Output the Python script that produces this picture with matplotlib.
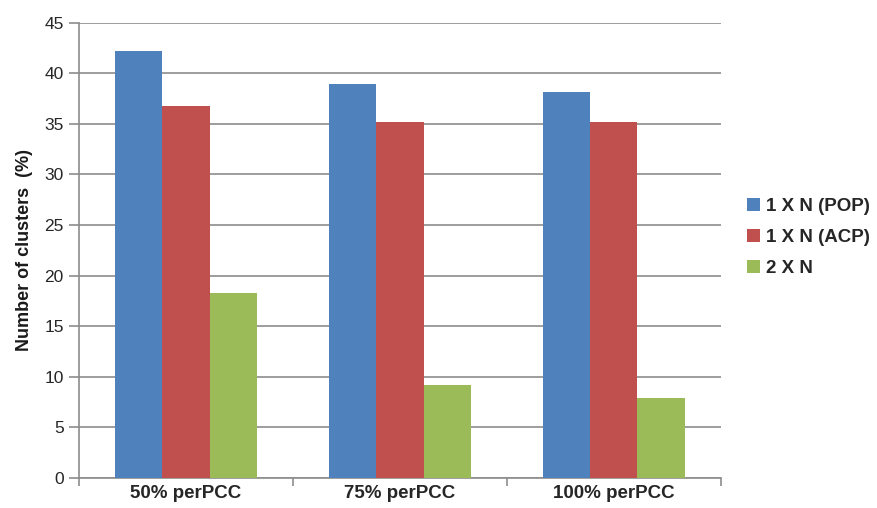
import matplotlib
matplotlib.use("Agg")
import matplotlib.pyplot as plt
import numpy as np
from matplotlib.patches import Patch

plt.rcParams['font.family'] = ['Liberation Sans', 'DejaVu Sans']

categories = ["50% perPCC", "75% perPCC", "100% perPCC"]
series_names = ["1 X N (POP)", "1 X N (ACP)", "2 X N"]
pop_values = [42.2, 38.9, 38.1]
acp_values = [36.8, 35.2, 35.2]
two_n_values = [18.3, 9.2, 7.9]
colors = ["#4F81BD", "#C0504D", "#9BBB59"]

fig = plt.figure(figsize=(8.77, 5.08), dpi=100)
ax = fig.add_axes([0.0901, 0.0591, 0.7317, 0.8966])

x = np.arange(len(categories))
width = 0.221
for i, (vals, col) in enumerate(zip([pop_values, acp_values, two_n_values], colors)):
    ax.bar(x + (i - 1) * width, vals, width, color=col, edgecolor='none', zorder=3)

ax.set_xlim(-0.5, len(categories) - 0.5)
ax.set_ylim(0, 45)
ax.set_yticks(np.arange(0, 46, 5))
ax.yaxis.grid(True, color='#8C8C8C', linewidth=1.2, zorder=0)

for s in ['top', 'right']:
    ax.spines[s].set_visible(False)
for s in ['left', 'bottom']:
    ax.spines[s].set_color('#8C8C8C')
    ax.spines[s].set_linewidth(1.2)

ax.set_xticks(np.arange(-0.5, len(categories), 1.0))
ax.set_xticklabels([])
ax.set_xticks(x, minor=True)
ax.set_xticklabels(categories, minor=True, fontsize=13.5, fontweight='bold', color='#262626')
ax.tick_params(axis='x', which='major', length=6, width=1.2, color='#8C8C8C', direction='out')
ax.tick_params(axis='x', which='minor', length=0, pad=5)
ax.tick_params(axis='y', length=7, width=1.2, color='#8C8C8C', labelsize=12.5,
               labelcolor='#262626', pad=4)

ax.set_ylabel("Number of clusters  (%)", fontsize=13, fontweight='bold', color='#1A1A1A', labelpad=8)

handles = [Patch(facecolor=c, edgecolor='none') for c in colors]
leg = fig.legend(handles, series_names, loc='center left', bbox_to_anchor=(0.843, 0.532),
                 frameon=False, fontsize=13.5, handlelength=0.7, handleheight=0.7,
                 handletextpad=0.3, labelspacing=0.75, borderaxespad=0)
for t in leg.get_texts():
    t.set_fontweight('bold')
    t.set_color('#262626')

fig.savefig("out.png", dpi=100)
